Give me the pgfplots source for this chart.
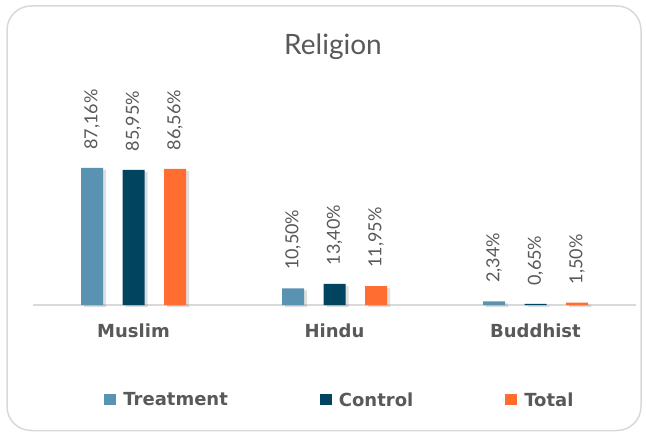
\documentclass[border=0pt]{standalone}
\usepackage{fontspec}
\setmainfont{Lato}
\newfontfamily\boldfont{DejaVu Sans}[BoldFont={DejaVu Sans Bold}]
\usepackage{pgfplots}
\pgfplotsset{compat=1.18}
\usetikzlibrary{shadows}
\definecolor{treat}{RGB}{90,146,178}
\definecolor{ctrl}{RGB}{0,68,96}
\definecolor{tot}{RGB}{255,110,48}
\definecolor{txt}{RGB}{89,89,89}
\definecolor{frm}{RGB}{217,217,217}
\tikzset{shad/.style={drop shadow={shadow xshift=3pt, shadow yshift=-2pt, opacity=0.25}}}
\begin{document}
\begin{tikzpicture}[x=1pt,y=1pt]
\path[use as bounding box] (0pt,0pt) rectangle (646pt,432pt);
\draw[draw=frm, line width=1.5pt, rounded corners=24pt, fill=white] (7pt,1.5pt) rectangle (641pt,426pt);
\node[text=txt, font=\fontsize{28}{32}\selectfont] at (333pt,385pt) {Religion};
\begin{axis}[
  at={(133.5pt,127pt)}, anchor=origin, scale only axis,
  width=603pt, height=157.2pt,
  xmin=-0.5, xmax=2.5, ymin=0, ymax=100,
  axis y line=none, axis x line*=bottom,
  x axis line style={draw=frm, line width=1.8pt, -},
  xtick={0,1,2}, xticklabels={Muslim,Hindu,Buddhist},
  xtick style={draw=none}, ytick=\empty,
  x tick label style={font=\boldfont\bfseries\fontsize{18}{20}\selectfont, text=txt, anchor=base, yshift=-28pt},
  ybar=19.5pt, bar width=22pt,
  clip=false,
  point meta=explicit symbolic,
  nodes near coords,
  nodes near coords style={rotate=90, anchor=west, xshift=15pt, font=\fontsize{18}{20}\selectfont, text=txt},
  legend style={at={(0.509,-0.604)}, anchor=center, draw=none, fill=none,
    legend columns=3, font=\boldfont\bfseries\fontsize{18}{20}\selectfont, text=txt,
    /tikz/every even column/.append style={column sep=90pt}},
  legend image code/.code={\path[draw=none,fill=none] (0pt,0pt) -- (17pt,0pt); \fill[#1, draw=none] (0pt,-5pt) rectangle (12pt,6pt);},
]
\addlegendimage{fill=treat, draw=none}
\addlegendimage{fill=ctrl, draw=none}
\addlegendimage{fill=tot, draw=none}
\addplot[fill=treat, draw=none, shad] coordinates {(0,87.16) [87,16\%] (1,10.50) [10,50\%] (2,2.34) [2,34\%]};
\addplot[fill=ctrl, draw=none, shad] coordinates {(0,85.95) [85,95\%] (1,13.40) [13,40\%] (2,0.65) [0,65\%]};
\addplot[fill=tot, draw=none, shad] coordinates {(0,86.56) [86,56\%] (1,11.95) [11,95\%] (2,1.50) [1,50\%]};
\legend{Treatment,Control,Total}
\end{axis}
\end{tikzpicture}
\end{document}
